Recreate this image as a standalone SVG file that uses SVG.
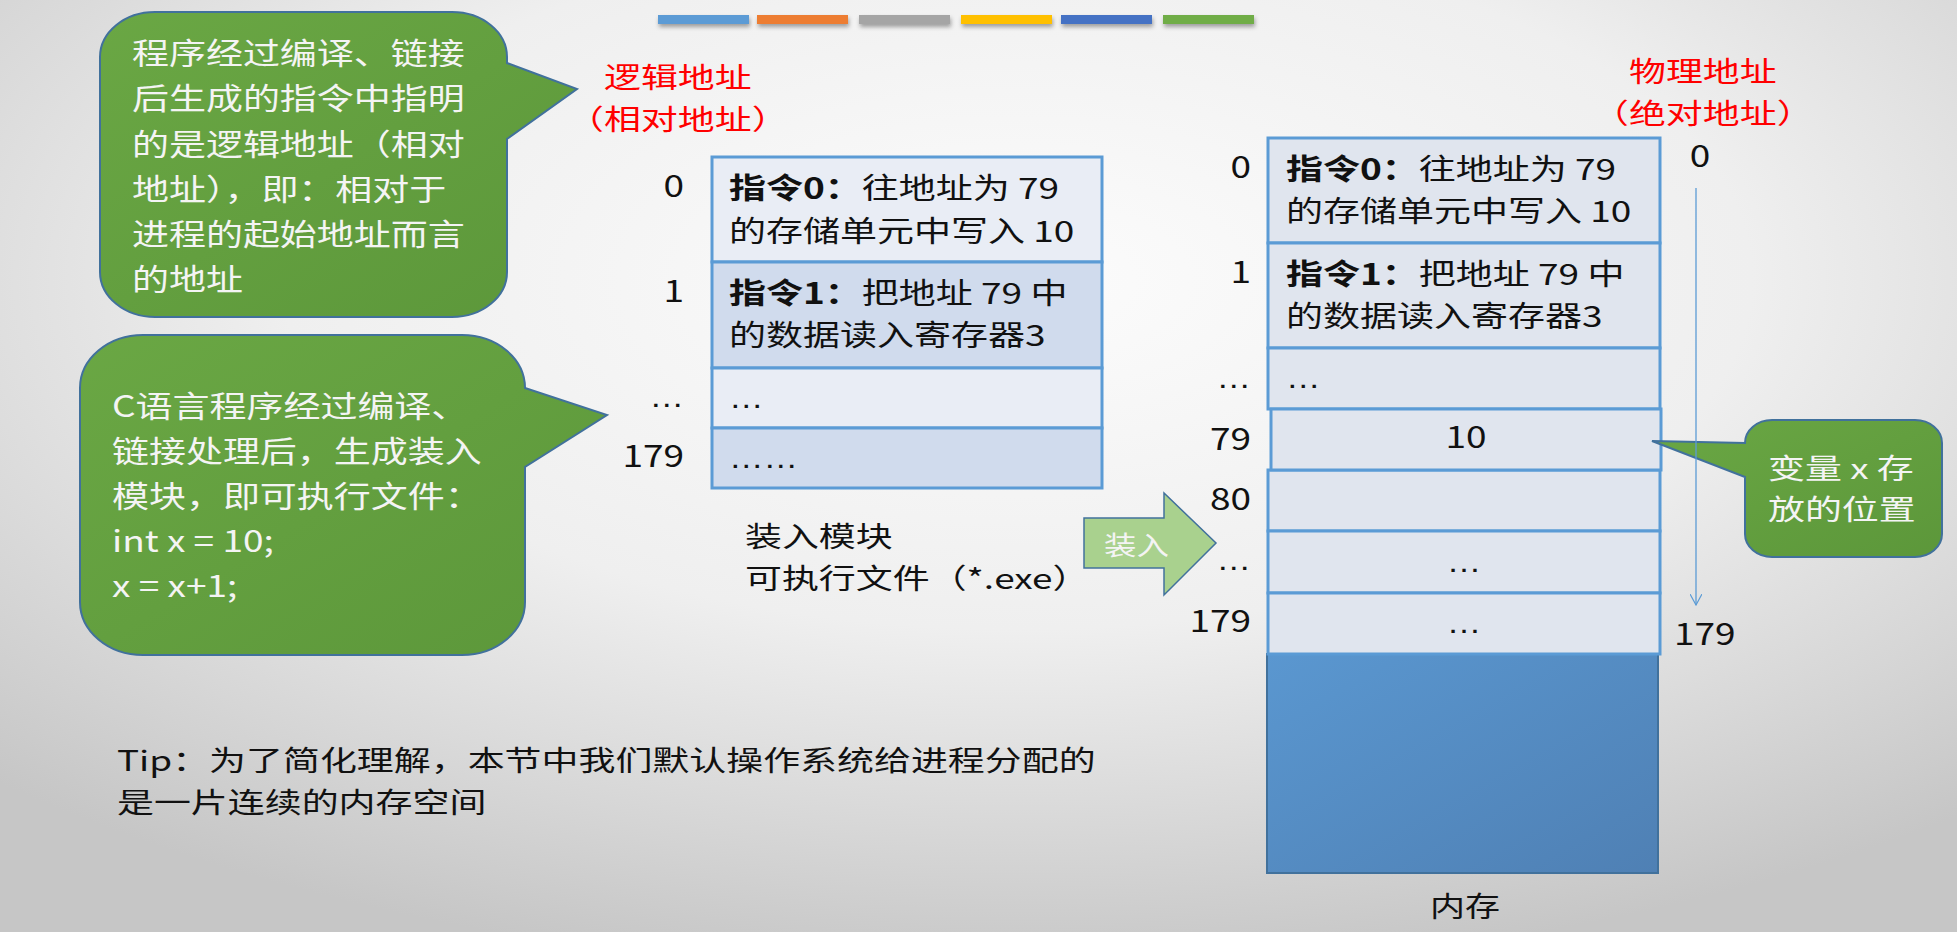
<svg xmlns="http://www.w3.org/2000/svg" width="1957" height="932" viewBox="0 0 1957 932">
<defs>
<radialGradient id="bg" cx="52%" cy="30%" r="75%">
<stop offset="0" stop-color="#FCFCFC"/>
<stop offset="0.5" stop-color="#EFEFEF"/>
<stop offset="1" stop-color="#C6C6C6"/>
</radialGradient>
<linearGradient id="memg" x1="0" y1="0" x2="1" y2="1">
<stop offset="0" stop-color="#5A97D0"/>
<stop offset="1" stop-color="#4F80B4"/>
</linearGradient>
<linearGradient id="greeng" x1="0" y1="0" x2="1" y2="1">
<stop offset="0" stop-color="#6AA744"/>
<stop offset="1" stop-color="#5C973A"/>
</linearGradient>
<filter id="sh" x="-10%" y="-50%" width="120%" height="250%">
<feDropShadow dx="1" dy="3" stdDeviation="2" flood-color="#000" flood-opacity="0.35"/>
</filter>
<marker id="openArrow" viewBox="0 0 12 12" refX="11" refY="6" markerWidth="12" markerHeight="12" markerUnits="userSpaceOnUse" orient="auto">
<path d="M0,0 L11,6 L0,12" fill="none" stroke="#5B9BD5" stroke-width="1.2"/>
</marker>
<style>
.t { font-family: "Noto Sans CJK SC", "Liberation Sans", sans-serif; font-size: 30px; fill: #111111; }
.s29 { font-size: 29px; }
.s28 { font-size: 28px; }
.lat { font-family: "Liberation Sans", sans-serif; }
.w { fill: #F4F4F4; }
.r { fill: #FF0000; }
.e { text-anchor: end; }
.m { text-anchor: middle; }
.callout { fill: url(#greeng); stroke: #41719C; stroke-width: 2; }
.ca { fill: #E9EDF5; stroke: #5B9BD5; stroke-width: 3; }
.cb { fill: #D0DBED; stroke: #5B9BD5; stroke-width: 3; }
.mc { fill: #E0E5EE; stroke: #5B9BD5; stroke-width: 3; }
</style>
</defs>

<rect width="1957" height="932" fill="url(#bg)"/>

<g id="color-bars" filter="url(#sh)">
<rect x="658" y="15" width="91" height="9" fill="#5B9BD5"/>
<rect x="757" y="15" width="91" height="9" fill="#ED7D31"/>
<rect x="859" y="15" width="91" height="9" fill="#A5A5A5"/>
<rect x="961" y="15" width="91" height="9" fill="#FFC000"/>
<rect x="1061" y="15" width="91" height="9" fill="#4472C4"/>
<rect x="1163" y="15" width="91" height="9" fill="#70AD47"/>
</g>

<g id="callout-logical">
<path class="callout" d="M155,12 H452 A55 45 0 0 1 507,57 V63 L577,89 L507,139 V272 A55 45 0 0 1 452,317 H155 A55 45 0 0 1 100,272 V57 A55 45 0 0 1 155,12 Z"/>
<text class="t w" transform="translate(132,64) scale(1.233,1)">程序经过编译、链接</text>
<text class="t w" transform="translate(132,109) scale(1.233,1)">后生成的指令中指明</text>
<text class="t w" transform="translate(132,155) scale(1.233,1)">的是逻辑地址（相对</text>
<text class="t w" transform="translate(132,200) scale(1.233,1)">地址），即：相对于</text>
<text class="t w" transform="translate(132,245) scale(1.233,1)">进程的起始地址而言</text>
<text class="t w" transform="translate(132,290) scale(1.233,1)">的地址</text>
</g>

<g id="callout-c">
<path class="callout" d="M143,335 H462 A63 53 0 0 1 525,388 L607,415 L525,467 V602 A63 53 0 0 1 462,655 H143 A63 53 0 0 1 80,602 V388 A63 53 0 0 1 143,335 Z"/>
<text class="t w" transform="translate(112,417) scale(1.233,1)">C语言程序经过编译、</text>
<text class="t w" transform="translate(112,462) scale(1.233,1)">链接处理后，生成装入</text>
<text class="t w" transform="translate(112,507) scale(1.233,1)">模块，即可执行文件：</text>
<text class="t w" transform="translate(112,552) scale(1.233,1)">int x = 10;</text>
<text class="t w" transform="translate(112,597) scale(1.233,1)">x = x+1;</text>
</g>

<g id="label-logical">
<text class="t s28 r" transform="translate(604,88) scale(1.32,1)">逻辑地址</text>
<text class="t s28 r" transform="translate(567,130) scale(1.32,1)">（相对地址）</text>
</g>

<g id="load-module">
<rect class="ca" x="712" y="157" width="390" height="105"/>
<rect class="cb" x="712" y="262" width="390" height="106"/>
<rect class="ca" x="712" y="368" width="390" height="60"/>
<rect class="cb" x="712" y="428" width="390" height="60"/>
<text class="t e" transform="translate(684,197) scale(1.233,1)">0</text>
<text class="t e" transform="translate(684,302) scale(1.233,1)">1</text>
<text class="t e lat" transform="translate(684,407) scale(1.15,1)">…</text>
<text class="t e" transform="translate(684,467) scale(1.233,1)">179</text>
<text class="t s29" transform="translate(729,199) scale(1.276,1)"><tspan font-weight="bold">指令0：</tspan>往地址为 79</text>
<text class="t s29" transform="translate(729,242) scale(1.276,1)">的存储单元中写入 10</text>
<text class="t s29" transform="translate(729,304) scale(1.276,1)"><tspan font-weight="bold">指令1：</tspan>把地址 79 中</text>
<text class="t s29" transform="translate(729,346) scale(1.276,1)">的数据读入寄存器3</text>
<text class="t lat" transform="translate(729,408) scale(1.15,1)">…</text>
<text class="t lat" transform="translate(729,468) scale(1.15,1)">……</text>
<text class="t s28" transform="translate(745,547) scale(1.32,1)">装入模块</text>
<text class="t s28" transform="translate(745,589) scale(1.32,1)">可执行文件（*.exe）</text>
</g>

<g id="label-physical">
<text class="t s28 r" transform="translate(1629,82) scale(1.32,1)">物理地址</text>
<text class="t s28 r" transform="translate(1592,124) scale(1.32,1)">（绝对地址）</text>
</g>

<g id="memory">
<rect x="1267" y="654" width="391" height="219" fill="url(#memg)" stroke="#41719C" stroke-width="2"/>
<rect class="mc" x="1268" y="138" width="392" height="105"/>
<rect class="mc" x="1268" y="243" width="392" height="105"/>
<rect class="mc" x="1268" y="348" width="392" height="61"/>
<rect class="mc" x="1268" y="470" width="392" height="61"/>
<rect class="mc" x="1268" y="531" width="392" height="62"/>
<rect class="mc" x="1268" y="593" width="392" height="61"/>
<rect class="mc" x="1271" y="409" width="390" height="61"/>
<text class="t e" transform="translate(1251,178) scale(1.233,1)">0</text>
<text class="t e" transform="translate(1251,283) scale(1.233,1)">1</text>
<text class="t e lat" transform="translate(1251,388) scale(1.15,1)">…</text>
<text class="t e" transform="translate(1251,450) scale(1.233,1)">79</text>
<text class="t e" transform="translate(1251,510) scale(1.233,1)">80</text>
<text class="t e lat" transform="translate(1251,570) scale(1.15,1)">…</text>
<text class="t e" transform="translate(1251,632) scale(1.233,1)">179</text>
<text class="t s29" transform="translate(1286,180) scale(1.276,1)"><tspan font-weight="bold">指令0：</tspan>往地址为 79</text>
<text class="t s29" transform="translate(1286,222) scale(1.276,1)">的存储单元中写入 10</text>
<text class="t s29" transform="translate(1286,285) scale(1.276,1)"><tspan font-weight="bold">指令1：</tspan>把地址 79 中</text>
<text class="t s29" transform="translate(1286,327) scale(1.276,1)">的数据读入寄存器3</text>
<text class="t lat" transform="translate(1286,388) scale(1.15,1)">…</text>
<text class="t m" transform="translate(1466,448) scale(1.233,1)">10</text>
<text class="t m lat" transform="translate(1464,572) scale(1.15,1)">…</text>
<text class="t m lat" transform="translate(1464,633) scale(1.15,1)">…</text>
<text class="t s28" transform="translate(1430,917) scale(1.25,1)">内存</text>
</g>

<g id="callout-x">
<path class="callout" d="M1772,420 H1915 A27 23 0 0 1 1942,443 V534 A27 23 0 0 1 1915,557 H1772 A27 23 0 0 1 1745,534 V477 L1652,441 L1745,443 A27 23 0 0 1 1772,420 Z"/>
<text class="t s28 w" transform="translate(1768,479) scale(1.32,1)">变量 x 存</text>
<text class="t s28 w" transform="translate(1768,520) scale(1.32,1)">放的位置</text>
</g>

<g id="connectors">
<line x1="1696" y1="188" x2="1696" y2="605" stroke="#5B9BD5" stroke-width="1.3" marker-end="url(#openArrow)"/>
<polygon points="1084,518 1164,518 1164,493 1216,543 1164,595 1164,568 1084,568" fill="#A9D18E" stroke="#41719C" stroke-width="1.5"/>
<text class="t w" style="font-size:26px" transform="translate(1104,555) scale(1.25,1)">装入</text>
</g>

<g id="address-range">
<text class="t m" transform="translate(1700,167) scale(1.233,1)">0</text>
<text class="t" transform="translate(1674,645) scale(1.233,1)">179</text>
</g>

<g id="tip">
<text class="t s28" transform="translate(117,771) scale(1.32,1)">Tip：为了简化理解，本节中我们默认操作系统给进程分配的</text>
<text class="t s28" transform="translate(117,813) scale(1.32,1)">是一片连续的内存空间</text>
</g>
</svg>
